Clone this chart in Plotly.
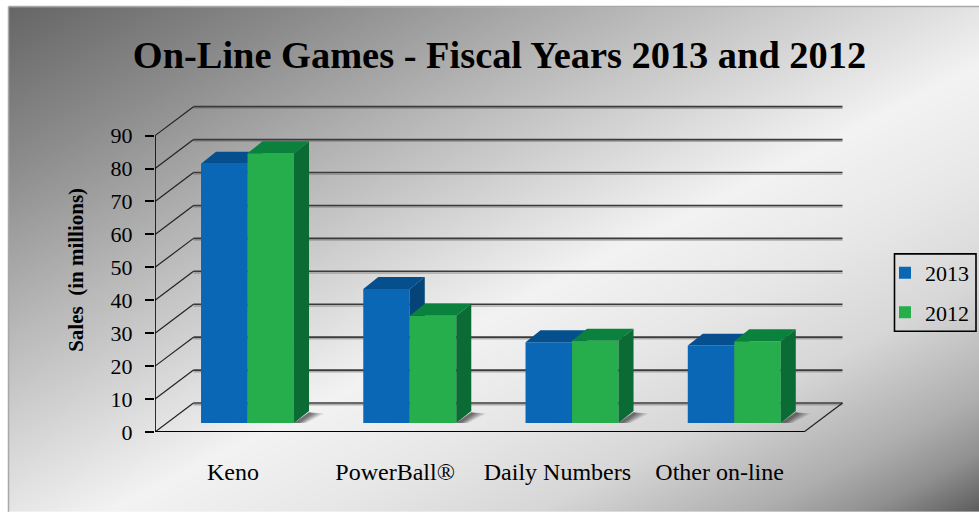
import base64, struct, zlib
import numpy as np
import plotly.graph_objects as go

# ---- data ----
categories = ["Keno", "PowerBall®", "Daily Numbers", "Other on-line"]
sales_2013 = [78.7, 40.7, 24.5, 23.5]
sales_2012 = [81.9, 32.6, 25.0, 24.8]
y_ticks = [0, 10, 20, 30, 40, 50, 60, 70, 80, 90]
series_names = ["2013", "2012"]

# ---- pixel frame of the plot ----
W, H = 979, 512
L, R, T, B = 155, 860, 100, 432.3
PX_X = 162.25   # pixels per category
PX_Y = 3.296    # pixels per value unit
x_range = [-0.5, -0.5 + (R - L) / PX_X]
y_range = [0, (B - T) / PX_Y]


def px(x):
    """Window pixel to plot-relative paper x."""
    return (x - L) / (R - L)


def py(y):
    """Window pixel to plot-relative paper y."""
    return (B - y) / (B - T)


# 3D construction, in axis units
WALL_DX, WALL_DY = 38.5 / PX_X, 29 / PX_Y
BAR_W = 46.5 / PX_X
FRONT_DX = 11.4 / PX_X
FRONT_BASE = 9 / PX_Y
DEPTH_DX, DEPTH_DY = 15 / PX_X, 12 / PX_Y
AX_END = 3.5

BLUE = ("#0A67B5", "#054F8F", "#054478")
GREEN = ("#26AE4D", "#0A823D", "#0B6B35")
FONT = "Liberation Serif"


def gradient_png():
    h, w = 253, 486
    yy, xx = np.mgrid[0:h, 0:w]
    t = 0.456 * (8 + xx * 2) + 0.89 * (7 + yy * 2)
    g = np.interp(t, [0, 150, 300, 504, 600, 700, 800, 850, 900],
                  [100, 140, 185, 243, 232, 215, 175, 145, 95]).astype(np.uint8)
    raw = b"".join(b"\x00" + row.tobytes() for row in g)

    def chunk(tag, d):
        return struct.pack(">I", len(d)) + tag + d + struct.pack(">I", zlib.crc32(tag + d))

    png = (b"\x89PNG\r\n\x1a\n" + chunk(b"IHDR", struct.pack(">IIBBBBB", w, h, 8, 0, 0, 0, 0))
           + chunk(b"IDAT", zlib.compress(raw, 9)) + chunk(b"IEND", b""))
    return "data:image/png;base64," + base64.b64encode(png).decode()


def poly(xs, ys, color, xa, ya):
    return go.Scatter(x=xs, y=ys, xaxis=xa, yaxis=ya, mode="lines", fill="toself",
                      fillcolor=color, line=dict(width=0, color=color),
                      showlegend=False, hoverinfo="skip")


def faces(values, shift, colors, xa, ya):
    """Top and side faces of one series, from its values."""
    tx, ty, sx, sy = [], [], [], []
    for i, v in enumerate(values):
        x0 = i + FRONT_DX + shift * BAR_W - BAR_W
        x1 = x0 + BAR_W
        top = FRONT_BASE + v
        tx += [x0, x1, x1 + DEPTH_DX, x0 + DEPTH_DX, x0, None]
        ty += [top, top, top + DEPTH_DY, top + DEPTH_DY, top, None]
        sx += [x1, x1 + DEPTH_DX, x1 + DEPTH_DX, x1, x1, None]
        sy += [FRONT_BASE, FRONT_BASE + DEPTH_DY, top + DEPTH_DY, top, FRONT_BASE, None]
    return [poly(tx, ty, colors[1], xa, ya), poly(sx, sy, colors[2], xa, ya)]


def bar(values, shift, colors, name, xa, ya):
    return go.Bar(x=[i + FRONT_DX + (shift - 0.5) * BAR_W for i in range(len(values))],
                  y=values, base=[FRONT_BASE] * len(values), width=BAR_W, name=name,
                  marker=dict(color=colors[0], line=dict(width=0)),
                  xaxis=xa, yaxis=ya, legendgroup=name, hoverinfo="skip")


fig = go.Figure()
fig.add_trace(bar(sales_2013, 0, BLUE, series_names[0], "x", "y"))
for t in faces(sales_2013, 0, BLUE, "x", "y"):
    fig.add_trace(t)
fig.add_trace(bar(sales_2012, 1, GREEN, series_names[1], "x2", "y2"))
for t in faces(sales_2012, 1, GREEN, "x2", "y2"):
    fig.add_trace(t)

shapes = []


def line(x0, y0, x1, y1, color, width):
    shapes.append(dict(type="line", xref="x", yref="y", x0=x0, y0=y0, x1=x1, y1=y1,
                       layer="below", line=dict(color=color, width=width)))


wall_left = -0.5 + WALL_DX
wall_right = AX_END + WALL_DX
for v in y_ticks:
    line(wall_left, v + WALL_DY - 0.5, wall_right, v + WALL_DY - 0.5, "rgba(120,120,120,0.55)", 1.5)
    line(wall_left, v + WALL_DY, wall_right, v + WALL_DY, "#3a3a3a", 1.6)
    line(-0.5, v, wall_left, v + WALL_DY, "#222222", 1.2)
line(AX_END, 0, wall_right, WALL_DY, "#222222", 1.2)
line(-0.5, 0, -0.5, 90, "#000000", 1.6)
line(-0.5, 0, AX_END, 0, "#000000", 1.8)

# floor shadows beside each bar group
for i in range(len(categories)):
    x1 = i + FRONT_DX + BAR_W
    for frac, alpha in [(1.0, 0.12), (0.8, 0.16), (0.6, 0.2), (0.4, 0.24), (0.2, 0.24)]:
        xb = x1 + DEPTH_DX
        xc = xb + DEPTH_DX * frac
        xd = x1 + DEPTH_DX * (0.2 + 0.6 * frac)
        path = (f"M{x1},{FRONT_BASE} L{xb},{FRONT_BASE + DEPTH_DY * 0.9} "
                f"L{xc},{FRONT_BASE + DEPTH_DY * 0.8} L{xd},{FRONT_BASE} Z")
        shapes.append(dict(type="path", xref="x", yref="y", path=path, layer="below",
                           fillcolor=f"rgba(50,50,50,{alpha})", line=dict(width=0)))

# panel edge
shapes.append(dict(type="line", xref="paper", yref="paper", x0=px(8.5), x1=px(W),
                   y0=py(6.5), y1=py(6.5), line=dict(color="#a8a8a8", width=1.5)))
shapes.append(dict(type="line", xref="paper", yref="paper", x0=px(8.5), x1=px(8.5),
                   y0=py(H), y1=py(6.5), line=dict(color="#a8a8a8", width=1.5)))
# legend box
shapes.append(dict(type="rect", xref="paper", yref="paper", x0=px(894.5), x1=px(976),
                   y0=py(331.5), y1=py(254), line=dict(color="black", width=1.6)))

fig.update_layout(
    width=W, height=H,
    margin=dict(l=L, r=W - R, t=T, b=H - B, pad=0, autoexpand=False),
    paper_bgcolor="white", plot_bgcolor="rgba(0,0,0,0)",
    font=dict(family=FONT, size=22, color="black"),
    title=dict(text="<b>On-Line Games - Fiscal Years 2013 and 2012</b>",
               font=dict(family=FONT, size=38.4, color="black"),
               x=499.5 / W, xanchor="center", y=1 - 55 / H, yanchor="middle"),
    xaxis=dict(range=x_range, tickmode="array",
               tickvals=[i - 0.02 for i in range(len(categories))], ticktext=categories,
               showgrid=False, zeroline=False, showline=False, ticks="",
               ticklabelstandoff=23, tickfont=dict(family=FONT, size=24)),
    yaxis=dict(range=y_range, tickmode="array", tickvals=y_ticks,
               ticktext=[str(v) for v in y_ticks],
               showgrid=False, zeroline=False, showline=False,
               ticks="outside", ticklen=9, tickwidth=1.5, tickcolor="black",
               ticklabelstandoff=8, tickfont=dict(family=FONT, size=22)),
    xaxis2=dict(range=x_range, overlaying="x", visible=False),
    yaxis2=dict(range=y_range, overlaying="y", visible=False),
    legend=dict(x=px(885), xanchor="left", y=py(252), yanchor="top",
                bgcolor="rgba(0,0,0,0)", borderwidth=0,
                font=dict(family=FONT, size=22), tracegroupgap=8,
                itemclick=False, itemdoubleclick=False),
    images=[dict(source=gradient_png(), xref="paper", yref="paper", x=px(8), y=py(7),
                 sizex=971 / (R - L), sizey=505 / (B - T), sizing="stretch", layer="below",
                 xanchor="left", yanchor="top")],
    shapes=shapes,
    annotations=[dict(text="<b>Sales\u00a0\u00a0(in millions)</b>", xref="paper", yref="paper",
                      x=px(76), y=py(270), xanchor="center", yanchor="middle",
                      textangle=-90, showarrow=False, font=dict(family=FONT, size=21))],
)

fig.write_html("out.html", config=dict(displayModeBar=False),
               post_script="document.body.style.margin='0';document.body.style.overflow='hidden';")
